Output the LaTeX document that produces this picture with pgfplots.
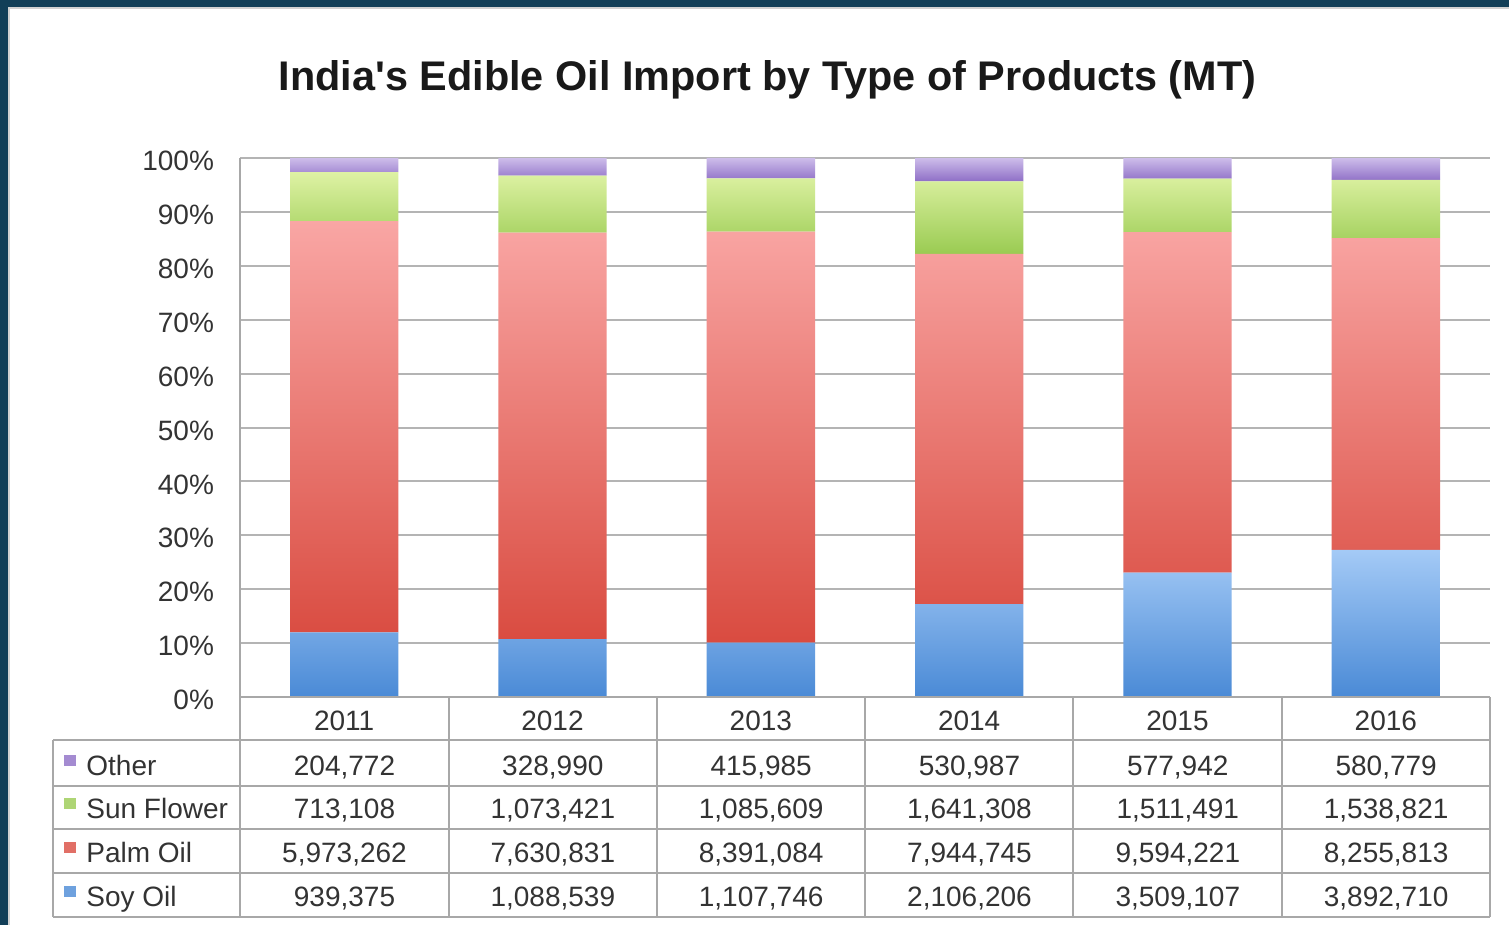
\documentclass[border=0pt]{standalone}
\usepackage{fontspec}
\setmainfont{Liberation Sans}
\usepackage{pgfplots}
\pgfplotsset{compat=1.18}
\definecolor{navy}{HTML}{123F58}
\definecolor{gridgray}{HTML}{B4B4B4}
\definecolor{tabgray}{HTML}{A8A8A8}
\definecolor{soyT}{HTML}{A4CAF6}
\definecolor{soyB}{HTML}{4A8AD6}
\definecolor{palmT}{HTML}{F9A6A4}
\definecolor{palmB}{HTML}{D94B40}
\definecolor{sunT}{HTML}{DEF2A4}
\definecolor{sunB}{HTML}{9ACB52}
\definecolor{othT}{HTML}{CDBDEA}
\definecolor{othB}{HTML}{8E6EC6}
\begin{document}
\begin{tikzpicture}
\begin{scope}[x=0.5pt,y=-0.5pt]
\useasboundingbox (0,0) rectangle (1509,925);
\fill[navy] (0,0) rectangle (1509,925);
\fill[white] (8,7) rectangle (1509,925);
\draw[gray!35, line width=1pt] (9,925) -- (9,8) -- (1509,8);
\node[font=\fontsize{20.7}{24}\selectfont\bfseries, text=black!90] at (767.5,80) {India\textquotesingle s Edible Oil Import by Type of Products (MT)};
\end{scope}
\begin{axis}[
  at={(120pt,-348.5pt)}, anchor=south west,
  scale only axis, width=625pt, height=269.5pt,
  xmin=-0.5, xmax=5.5, ymin=0, ymax=100,
  ybar stacked, bar width=0.52,
  axis line style={draw=none},
  tick style={draw=none},
  xtick=data,
  xticklabels={2011,2012,2013,2014,2015,2016},
  ytick={0,10,...,100},
  yticklabel={\pgfmathprintnumber{\tick}\%},
  /pgf/number format/assume math mode=true,
  ymajorgrids, grid style={gridgray, line width=1pt},
  tick label style={font=\fontsize{14}{16}\selectfont, text=black!80},
  xticklabel style={anchor=base, yshift=-16.5pt},
  yticklabel style={anchor=east, xshift=-9.5pt, yshift=-1.5pt},
  clip=false,
]
\addplot[draw=none, top color=soyT, bottom color=soyB] coordinates {(0,11.996) (1,10.754) (2,10.070) (3,17.231) (4,23.097) (5,27.282)};
\addplot[draw=none, top color=palmT, bottom color=palmB] coordinates {(0,76.282) (1,75.390) (2,76.280) (3,64.997) (4,63.150) (5,57.862)};
\addplot[draw=none, top color=sunT, bottom color=sunB] coordinates {(0,9.107) (1,10.605) (2,9.869) (3,13.428) (4,9.949) (5,10.785)};
\addplot[draw=none, top color=othT, bottom color=othB] coordinates {(0,2.615) (1,3.250) (2,3.782) (3,4.344) (4,3.804) (5,4.070)};
\end{axis}
\begin{scope}[x=0.5pt,y=-0.5pt]
\begin{scope}[line width=1pt, tabgray]
\draw (240,158) -- (240,917);
\draw (240,697) -- (1490,697);
\foreach \yy in {740,786,829,873,917} \draw (53,\yy) -- (1490,\yy);
\draw (53,740) -- (53,917);
\foreach \xx in {449,657,865,1073,1282,1490} \draw (\xx,697) -- (\xx,917);
\end{scope}
\begin{scope}[every node/.style={font=\fontsize{14}{16}\selectfont, text=black!80, inner sep=0pt}]
\foreach \lab/\yy/\cc in {Other/775/othB, Sun Flower/818/sunB, Palm Oil/862/palmB, Soy Oil/906/soyB} {
  \fill[\cc!80] (64,\yy-20) rectangle (76,\yy-9);
  \node[anchor=base west] at (86,\yy) {\lab};
}
\foreach \v [count=\i from 0] in {204{,}772, 328{,}990, 415{,}985, 530{,}987, 577{,}942, 580{,}779}
  \node[anchor=base] at (344.5+208.33*\i,775) {\v};
\foreach \v [count=\i from 0] in {713{,}108, 1{,}073{,}421, 1{,}085{,}609, 1{,}641{,}308, 1{,}511{,}491, 1{,}538{,}821}
  \node[anchor=base] at (344.5+208.33*\i,818) {\v};
\foreach \v [count=\i from 0] in {5{,}973{,}262, 7{,}630{,}831, 8{,}391{,}084, 7{,}944{,}745, 9{,}594{,}221, 8{,}255{,}813}
  \node[anchor=base] at (344.5+208.33*\i,862) {\v};
\foreach \v [count=\i from 0] in {939{,}375, 1{,}088{,}539, 1{,}107{,}746, 2{,}106{,}206, 3{,}509{,}107, 3{,}892{,}710}
  \node[anchor=base] at (344.5+208.33*\i,906) {\v};
\end{scope}
\end{scope}
\end{tikzpicture}
\end{document}
